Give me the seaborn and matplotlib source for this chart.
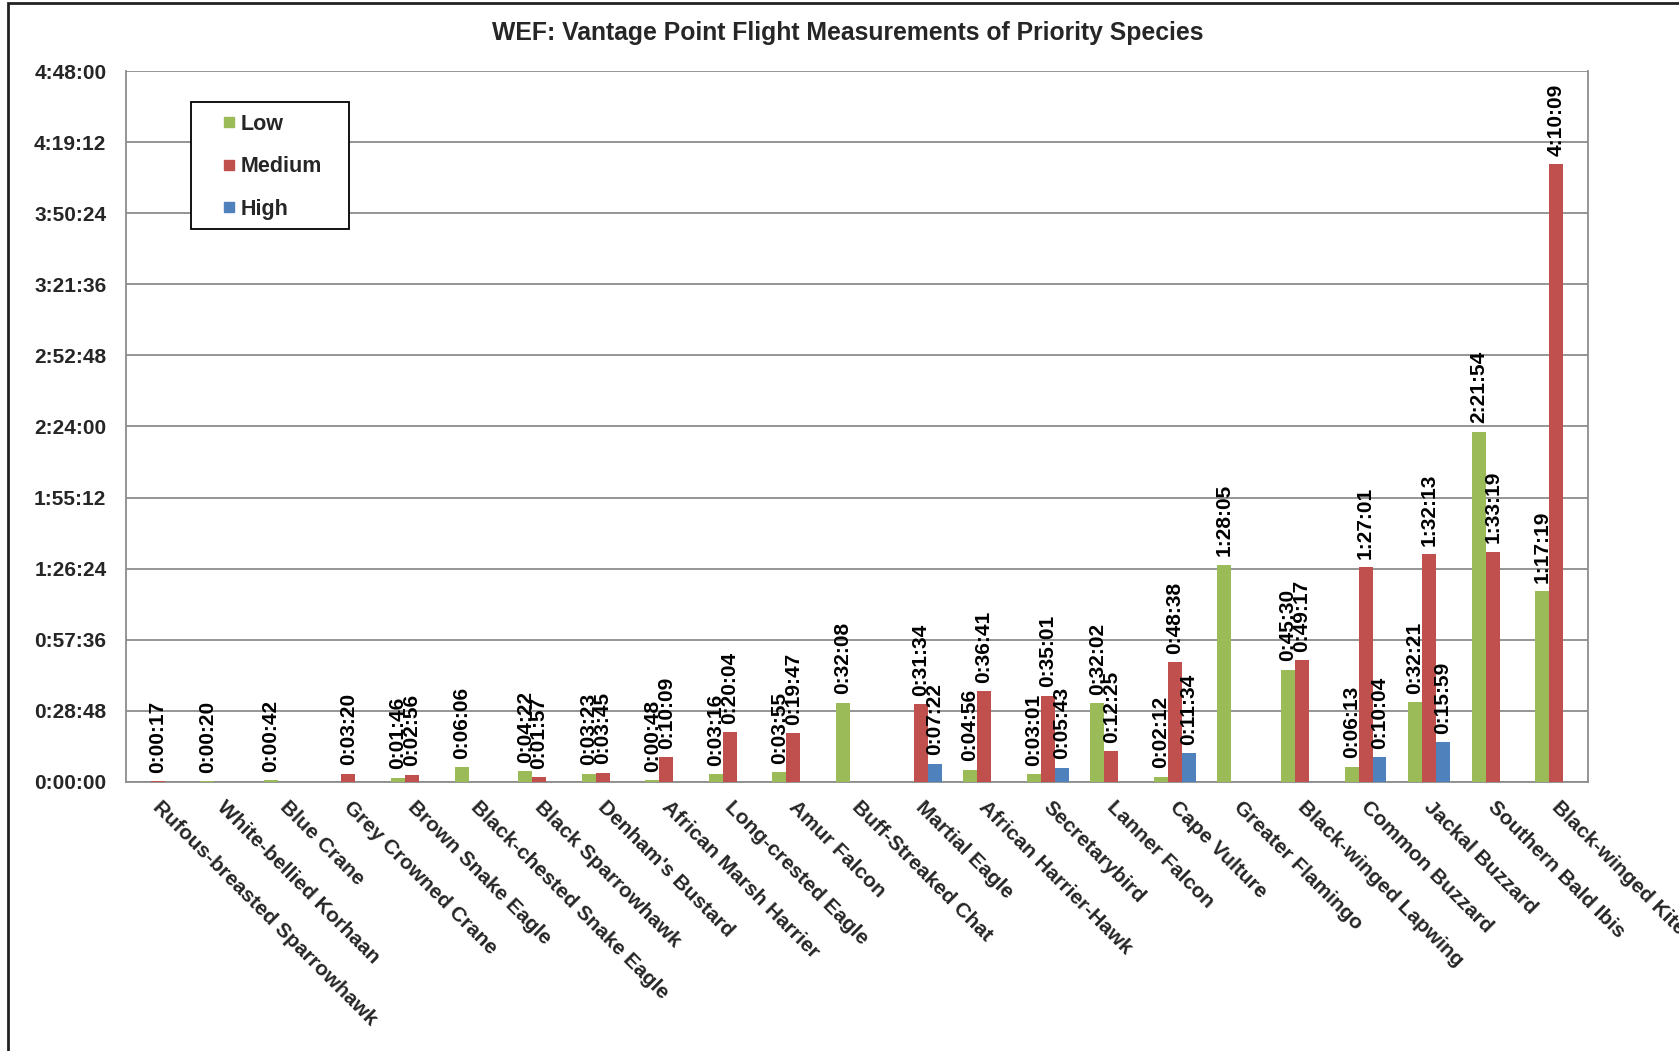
import matplotlib
matplotlib.use("Agg")
import matplotlib.pyplot as plt
from matplotlib.patches import Rectangle
from matplotlib.lines import Line2D
from matplotlib.ticker import FuncFormatter
import matplotlib.transforms as mtransforms
import numpy as np
import pandas as pd
import seaborn as sns

# ─── Data (h:mm:ss, None = no flights) ─────────────────────────────────────
species = ["Rufous-breasted Sparrowhawk", "White-bellied Korhaan", "Blue Crane",
           "Grey Crowned Crane", "Brown Snake Eagle", "Black-chested Snake Eagle",
           "Black Sparrowhawk", "Denham's Bustard", "African Marsh Harrier",
           "Long-crested Eagle", "Amur Falcon", "Buff-Streaked Chat", "Martial Eagle",
           "African Harrier-Hawk", "Secretarybird", "Lanner Falcon", "Cape Vulture",
           "Greater Flamingo", "Black-winged Lapwing", "Common Buzzard",
           "Jackal Buzzard", "Southern Bald Ibis", "Black-winged Kite"]
low = [None, "0:00:20", "0:00:42", None, "0:01:46", "0:06:06", "0:04:22", "0:03:23",
       "0:00:48", "0:03:16", "0:03:55", "0:32:08", None, "0:04:56", "0:03:01",
       "0:32:02", "0:02:12", "1:28:05", "0:45:30", "0:06:13", "0:32:21", "2:21:54",
       "1:17:19"]
medium = ["0:00:17", None, None, "0:03:20", "0:02:56", None, "0:01:57", "0:03:45",
          "0:10:09", "0:20:04", "0:19:47", None, "0:31:34", "0:36:41", "0:35:01",
          "0:12:25", "0:48:38", None, "0:49:17", "1:27:01", "1:32:13", "1:33:19",
          "4:10:09"]
high = [None, None, None, None, None, None, None, None, None, None, None, None,
        "0:07:22", None, "0:05:43", None, "0:11:34", None, None, "0:10:04",
        "0:15:59", None, None]
levels = ["Low", "Medium", "High"]
colors = ["#9BBB59", "#C0504D", "#4F81BD"]
ytick_step = 1728  # 0:28:48
ytick_max = 17280  # 4:48:00


def to_sec(s):
    h, m, sec = (int(p) for p in s.split(":"))
    return h * 3600 + m * 60 + sec


def fmt(v, pos=None):
    v = int(round(v))
    return f"{v // 3600}:{(v % 3600) // 60:02d}:{v % 60:02d}"


rows = []
for lvl, vals in zip(levels, [low, medium, high]):
    for sp, v in zip(species, vals):
        if v is not None:
            rows.append({"species": sp, "level": lvl, "seconds": to_sec(v)})
df = pd.DataFrame(rows)

# ─── Figure ────────────────────────────────────────────────────────────────
sns.set_style("white")
plt.rcParams["font.family"] = ["Liberation Sans", "DejaVu Sans"]
plt.rcParams["font.weight"] = "bold"

fig = plt.figure(figsize=(16.79, 10.51), dpi=100)
ax = fig.add_axes([0.075, 0.256, 0.8708, 0.6764])

sns.barplot(data=df, x="species", y="seconds", hue="level", order=species,
            hue_order=levels, palette=colors, width=0.66, saturation=1,
            errorbar=None, ax=ax, linewidth=0, legend=False, zorder=3)

# data labels, same overlaps as the original Excel chart
for cont in ax.containers:
    ax.bar_label(cont, labels=[fmt(v) for v in cont.datavalues], rotation=90,
                 padding=6, fontsize=15, fontweight="bold", color="black")

grid_c = "#8c8c8c"
ax.set_ylim(0, ytick_max)
ax.set_xlim(-0.5, len(species) - 0.5)
ax.set_yticks(np.arange(0, ytick_max + 1, ytick_step))
ax.yaxis.set_major_formatter(FuncFormatter(fmt))
ax.grid(axis="y", color=grid_c, linewidth=1.3, zorder=0)
ax.set_axisbelow(True)
for side in ["left", "right", "bottom"]:
    ax.spines[side].set_color(grid_c)
    ax.spines[side].set_linewidth(1.3)
ax.spines["top"].set_visible(False)
ax.set_xlabel("")
ax.set_ylabel("")

ax.tick_params(axis="y", length=6, width=1.3, color=grid_c, labelsize=15, pad=8)
ax.set_xticks(np.arange(-0.5, len(species)), minor=True)
ax.tick_params(axis="x", which="minor", length=6, width=1.3, color=grid_c)
ax.tick_params(axis="x", which="major", length=0, pad=11)
ax.set_xticks(range(len(species)))
ax.set_xticklabels(species, rotation=-45, ha="left", va="top",
                   rotation_mode="anchor", fontsize=15, fontweight="bold")
shift = mtransforms.ScaledTranslation(5 / 100, 0, fig.dpi_scale_trans)
for lab in ax.get_xticklabels():
    lab.set_transform(lab.get_transform() + shift)
for lab in ax.get_yticklabels():
    lab.set_fontweight("bold")

fig.text(0.505, 0.969, "WEF: Vantage Point Flight Measurements of Priority Species",
         ha="center", va="center", fontsize=17.8, fontweight="bold")

# legend box
ax.add_patch(Rectangle((191 / 1679, 1 - 229 / 1051), 158 / 1679, 127 / 1051,
                       transform=fig.transFigure, facecolor="white",
                       edgecolor="black", linewidth=1.3, zorder=4, clip_on=False))
handles = [Line2D([], [], marker="s", linestyle="none", markersize=7,
                  markerfacecolor=c, markeredgecolor=c) for c in colors]
leg = ax.legend(handles, levels, loc="upper left",
                bbox_to_anchor=(212 / 1679, 1 - 103 / 1051),
                bbox_transform=fig.transFigure, frameon=False, borderpad=0,
                handlelength=0.55, handletextpad=0.3, labelspacing=1.0,
                prop={"size": 15.5, "weight": "bold"})
leg.set_zorder(5)

# outer chart border
fig.patches.append(Rectangle((8 / 1679, -0.05), 1.2, 1.05 - 3 / 1051,
                             transform=fig.transFigure, fill=False,
                             edgecolor="#222222", linewidth=2))

fig.savefig("out.png", dpi=100)
plt.close()
